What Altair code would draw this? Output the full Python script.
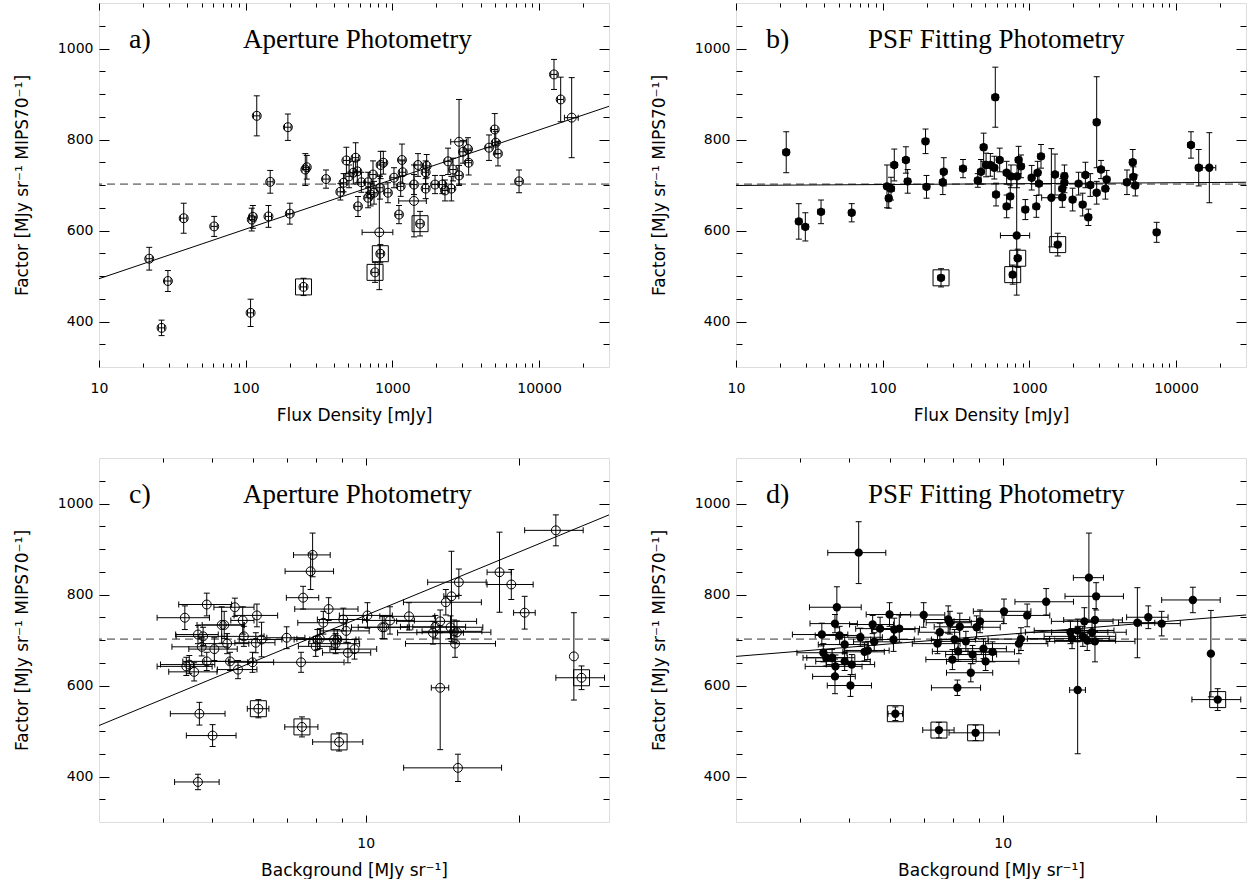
import altair as alt
import pandas as pd

# ---------------- data ----------------
# Panel a: aperture photometry factor vs flux density
a_flux = [22, 26.7, 29.5, 37.8, 61, 108, 110, 112, 119, 143, 147, 194, 200, 248, 255,
          261, 353, 442, 465, 486, 507, 542, 562, 577, 583, 615, 683, 683, 711, 738,
          750, 762, 815, 824, 828, 832, 868, 933, 1026, 1110, 1140, 1163, 1176, 1405, 1405,
          1496, 1545, 1687, 1687, 1714, 1954, 2191, 2285, 2397, 2525, 2593, 2850, 2850, 3034, 3281,
          3313, 4560, 4990, 5070, 5250, 7310, 12650, 14050, 16700]
a_fac = [538, 386, 489, 627, 609, 419, 624, 630, 852, 631, 707, 827, 637, 476, 734,
         739, 713, 685, 705, 754, 719, 727, 760, 730, 653, 706, 706, 672, 679, 723,
         683, 508, 596, 694, 549, 744, 749, 683, 716, 635, 697, 755, 728, 701, 665,
         744, 615, 728, 692, 742, 701, 701, 688, 752, 692, 734, 795, 721, 773, 779,
         749, 782, 822, 793, 769, 708, 943, 888, 848]
a_err = [25, 17, 23, 33, 22, 30, 25, 25, 44, 24, 25, 29, 23, 19, 35,
         26, 20, 18, 20, 29, 25, 25, 33, 25, 22, 22, 22, 22, 25, 30,
         25, 22, 126, 25, 20, 30, 25, 22, 22, 20, 22, 35, 25, 22, 79,
         25, 27, 25, 22, 25, 20, 20, 23, 29, 27, 25, 93, 22, 25, 25,
         27, 28, 35, 25, 27, 25, 33, 49, 88]
a_ferr = [1.1, 1.3, 1.5, 1.9, 3, 5, 5, 6, 6, 7, 7, 10, 10, 12, 13,
          13, 18, 22, 23, 24, 25, 27, 28, 29, 29, 31, 34, 34, 36, 37,
          38, 38, 193, 41, 41, 42, 43, 47, 51, 55, 57, 58, 59, 70, 300,
          75, 77, 84, 84, 86, 98, 110, 114, 120, 126, 130, 350, 142, 152, 164,
          166, 228, 250, 254, 262, 365, 630, 700, 1800]
a_boxed = [13, 31, 34, 46]
a_fit_x = [10, 30000]
a_fit_y = [494, 873]

# Panel b: PSF fitting factor vs flux density
b_flux = [22, 26.8, 29.7, 38, 61.5, 107, 110, 114, 120, 144, 148, 196, 199, 250, 257,
          261, 353, 445, 468, 488, 507, 542, 577, 586, 593, 628, 700, 700, 741, 750,
          770, 820, 824, 833, 845, 877, 939, 1037, 1116, 1139, 1163, 1201, 1413, 1496, 1561,
          1678, 1678, 1734, 1734, 1973, 2167, 2310, 2411, 2525, 2604, 2878, 2878, 3082, 3300, 3367,
          4630, 5070, 5120, 5280, 7380, 12650, 14280, 16870]
b_fac = [772, 620, 608, 641, 639, 697, 671, 692, 744, 755, 708, 796, 696, 496, 706,
         729, 736, 710, 729, 783, 744, 744, 738, 893, 679, 755, 727, 653, 675, 719,
         503, 589, 719, 539, 755, 741, 646, 716, 653, 727, 703, 763, 672, 723, 569,
         673, 692, 719, 705, 668, 703, 657, 722, 629, 700, 838, 683, 734, 692, 712,
         706, 750, 718, 699, 596, 788, 738, 738]
b_err = [45, 39, 31, 26, 20, 47, 22, 25, 35, 29, 26, 27, 25, 20, 27,
         31, 20, 15, 27, 31, 26, 25, 25, 66, 25, 26, 25, 25, 25, 25,
         21, 131, 25, 20, 30, 25, 22, 27, 24, 25, 25, 26, 108, 45, 25,
         22, 22, 25, 22, 25, 25, 25, 28, 18, 25, 100, 25, 20, 23, 20,
         27, 28, 22, 23, 22, 29, 40, 77]
b_ferr = [1.1, 1.3, 1.5, 1.9, 3, 5, 5, 6, 6, 7, 7, 10, 10, 12, 13,
          13, 18, 22, 23, 24, 25, 27, 29, 29, 30, 31, 35, 35, 37, 37,
          38, 185, 41, 42, 42, 44, 47, 52, 56, 57, 58, 60, 200, 75, 78,
          84, 84, 87, 87, 99, 108, 115, 120, 126, 130, 144, 144, 154, 165, 168,
          230, 254, 256, 264, 370, 630, 710, 1800]
b_boxed = [13, 30, 33, 44]
b_fit_x = [10, 30000]
b_fit_y = [699, 706]

# Panel c: aperture photometry factor vs background
c_bg = [4.42, 4.45, 4.51, 4.61, 4.69, 4.72, 4.69, 4.77, 4.80, 4.88, 4.88, 5.01, 5.05, 5.22, 5.28,
        5.35, 5.42, 5.54, 5.62, 5.74, 5.77, 6.0, 6.09, 6.12, 6.16, 6.25, 7.0, 7.47, 7.50, 7.54,
        7.80, 7.87, 7.98, 8.04, 8.13, 8.26, 8.46, 8.67, 8.73, 8.80, 8.87, 9.04, 9.16, 9.23, 9.51,
        10.08, 10.78, 10.87, 11.16, 12.16, 13.55, 13.7, 14.0, 14.0, 14.36, 14.67, 14.73, 14.9, 14.97, 15.1,
        15.17, 15.23, 18.3, 19.3, 20.5, 23.6, 25.6, 26.5]
c_fac = [749, 642, 646, 630, 712, 538, 388, 685, 708, 778, 653, 490, 680, 733, 733,
         692, 653, 772, 635, 743, 708, 651, 694, 754, 549, 701, 705, 651, 509, 793,
         851, 887, 686, 701, 703, 738, 768, 701, 692, 701, 476, 745, 720, 672, 680,
         754, 728, 728, 743, 752, 716, 729, 741, 595, 783, 728, 796, 719, 692, 717,
         419, 827, 849, 822, 760, 941, 664, 617]
c_err = [26, 20, 20, 20, 20, 25, 17, 20, 20, 25, 20, 24, 25, 40, 30,
         22, 20, 20, 20, 30, 22, 22, 22, 25, 20, 38, 24, 22, 22, 25,
         40, 48, 22, 22, 22, 25, 25, 22, 22, 22, 20, 25, 25, 22, 22,
         28, 25, 25, 30, 30, 25, 25, 25, 136, 28, 25, 99, 25, 30, 25,
         30, 29, 88, 33, 36, 34, 96, 26]
c_bgerr = [0.52, 0.55, 0.55, 0.5, 0.45, 0.58, 0.47, 0.6, 0.55, 0.58, 0.5, 0.56, 0.55, 0.55, 0.5,
           0.55, 0.6, 0.5, 0.5, 0.3, 0.55, 0.6, 0.55, 0.6, 0.3, 0.6, 0.6, 1.6, 0.56, 0.55,
           0.85, 0.65, 0.6, 0.8, 0.8, 0.9, 1.2, 0.9, 1.0, 0.9, 1.0, 1.0, 1.0, 1.0, 1.0,
           1.2, 1.4, 1.2, 1.3, 1.5, 2.0, 2.0, 2.5, 0.55, 2.5, 2.3, 0.5, 2.0, 3.0, 2.5,
           3.3, 2.0, 1.0, 2.0, 1.0, 3.1, 0, 2.9]
c_boxed = [24, 28, 40, 67]
c_fit_x = [3, 30]
c_fit_y = [512, 975]

# Panel d: PSF fitting factor vs background
d_bg = [4.42, 4.45, 4.51, 4.63, 4.69, 4.73, 4.69, 4.70, 4.79, 4.90, 4.90, 5.03, 5.06, 5.22, 5.26,
        5.36, 5.44, 5.56, 5.60, 5.75, 6.0, 6.11, 6.13, 6.16, 6.27, 7.0, 7.45, 7.50, 7.53, 7.82,
        7.88, 7.97, 8.05, 8.15, 8.18, 8.24, 8.47, 8.66, 8.73, 8.85, 8.89, 9.03, 9.17, 9.26, 9.55,
        10.06, 10.76, 10.86, 11.17, 12.17, 13.58, 13.68, 14.03, 14.03, 14.36, 14.46, 14.65, 14.76, 14.97, 15.17,
        15.17, 15.25, 18.37, 19.3, 20.5, 23.6, 25.6, 26.4]
d_fac = [712, 672, 661, 661, 736, 772, 620, 642, 710, 690, 653, 600, 646, 892, 706,
         674, 677, 734, 696, 725, 756, 701, 723, 538, 725, 755, 692, 502, 717, 745,
         738, 657, 701, 595, 675, 729, 697, 628, 668, 496, 728, 741, 681, 653, 674,
         763, 692, 702, 754, 784, 717, 703, 721, 590, 708, 741, 699, 837, 717, 744,
         697, 796, 738, 750, 736, 788, 670, 569]
d_err = [25, 20, 18, 18, 20, 45, 38, 25, 20, 20, 20, 24, 22, 68, 20,
         20, 20, 20, 20, 25, 26, 26, 25, 15, 30, 27, 22, 17, 20, 30,
         25, 22, 22, 17, 22, 30, 22, 20, 20, 17, 25, 25, 22, 20, 22,
         27, 22, 25, 25, 29, 25, 22, 25, 140, 22, 30, 22, 98, 25, 25,
         45, 30, 77, 25, 27, 28, 95, 24]
d_bgerr = [0.55, 0.5, 0.45, 0.5, 0.5, 0.55, 0.45, 0.6, 0.5, 0.55, 0.6, 0.5, 0.55, 0.68, 0.55,
           0.5, 0.55, 0.55, 0.5, 0.6, 0.6, 0.6, 0.6, 0.2, 0.6, 0.7, 0.8, 0.53, 0.7, 0.8,
           0.8, 0.9, 0.8, 0.9, 0.9, 0.9, 0.9, 0.9, 1.0, 1.0, 1.0, 1.0, 1.0, 1.5, 1.0,
           1.3, 1.5, 1.5, 1.2, 1.6, 2.5, 2.5, 2.5, 0.5, 2.3, 2.0, 2.0, 1.0, 2.5, 2.0,
           3.0, 2.0, 1.5, 1.8, 1.8, 3.1, 0, 2.9]
d_boxed = [23, 27, 39, 67]
d_fit_x = [3, 30]
d_fit_y = [664, 755]

ref_level = 702

flux_domain = [10, 30000]
flux_major = [10, 100, 1000, 10000]
flux_minor = [20, 30, 40, 50, 60, 70, 80, 90, 200, 300, 400, 500, 600, 700, 800, 900,
              2000, 3000, 4000, 5000, 6000, 7000, 8000, 9000, 20000]
flux_labels = [10, 100, 1000, 10000]

bg_domain = [3, 30]
bg_major = [10, 20]
bg_minor = [4, 5, 6, 7, 8, 9]
bg_labels = [10]

y_domain = [300, 1100]
y_major = [400, 600, 800, 1000]
y_minor = [350, 450, 500, 550, 650, 700, 750, 850, 900, 950, 1050]

Y_TITLE = "Factor [MJy sr\u207b\u00b9 MIPS70\u207b\u00b9]"
FLUX_TITLE = "Flux Density [mJy]"
BG_TITLE = "Background [MJy sr\u207b\u00b9]"

# ---------------- layout ----------------
W, H = 510, 364
SANS = "DejaVu Sans"
SERIF = "Liberation Serif"


def make_df(x, y, yerr, xerr, boxed):
    df = pd.DataFrame({"x": x, "y": y, "yerr": yerr, "xerr": xerr})
    df["ylo"] = df["y"] - df["yerr"]
    df["yhi"] = df["y"] + df["yerr"]
    df["xlo"] = df["x"] - df["xerr"]
    df["xhi"] = df["x"] + df["xerr"]
    df["box"] = [i in boxed for i in range(len(df))]
    return df


def tick_axis(orient, values, size, offset):
    return alt.Axis(orient=orient, values=values, tickSize=size, offset=offset,
                    labels=False, domain=False, grid=False, title=None,
                    tickColor="black", tickWidth=1)


def panel(df, fit_x, fit_y, xdom, xmaj, xmin, xlab, xtitle, filled, tag, title, title_x):
    xs = alt.Scale(type="log", domain=xdom)
    ys = alt.Scale(domain=y_domain)

    def X(field, axis=None):
        return alt.X(field, type="quantitative", scale=xs, axis=axis)

    def Y(field, axis=None):
        return alt.Y(field, type="quantitative", scale=ys, axis=axis)

    x_label_axis = alt.Axis(orient="bottom", values=xlab, format="d", ticks=False, tickSize=0,
                            domain=False, grid=False, labelFont=SANS, labelFontSize=14,
                            labelColor="black", labelPadding=14, labelFlush=False,
                            labelOverlap=False, title=xtitle, titleFont=SANS,
                            titleFontSize=17, titleFontWeight="normal", titleColor="black",
                            titlePadding=12)
    y_label_axis = alt.Axis(orient="left", values=y_major, format="d", ticks=False, tickSize=0,
                            domain=False, grid=False, labelFont=SANS, labelFontSize=14,
                            labelColor="black", labelPadding=6, labelFlush=False,
                            title=Y_TITLE, titleFont=SANS, titleFontSize=17,
                            titleFontWeight="normal", titleColor="black", titlePadding=26)

    carriers = [
        (x_label_axis, y_label_axis),
        (tick_axis("top", xmaj, 7, -H), tick_axis("right", y_major, 10, -W)),
        (tick_axis("top", xmin, 4, -H), tick_axis("right", y_minor, 6, -W)),
        (tick_axis("bottom", xmaj, 7, -H), tick_axis("left", y_major, 10, -W)),
        (tick_axis("bottom", xmin, 4, -H), tick_axis("left", y_minor, 6, -W)),
    ]
    layers = []
    for xa, ya in carriers:
        layers.append(alt.Chart(df).mark_point(opacity=0).encode(x=X("x", xa), y=Y("y", ya)))

    yerr = alt.Chart(df).mark_rule(color="black", strokeWidth=1, clip=True).encode(
        x=X("x"), y=Y("ylo"), y2="yhi")
    ycaps = alt.Chart(df).transform_fold(["ylo", "yhi"], as_=["k", "v"]).mark_tick(
        orient="horizontal", size=6, thickness=1, color="black", opacity=1, clip=True
    ).encode(x=X("x"), y=Y("v:Q"))
    xerr = alt.Chart(df).transform_filter("datum.xerr > 0").mark_rule(
        color="black", strokeWidth=1, clip=True).encode(x=X("xlo"), x2="xhi", y=Y("y"))
    xcaps = alt.Chart(df).transform_filter("datum.xerr > 0").transform_fold(
        ["xlo", "xhi"], as_=["k", "v"]).mark_tick(
        orient="vertical", size=6, thickness=1, color="black", opacity=1, clip=True
    ).encode(x=X("v:Q"), y=Y("y"))
    pts = alt.Chart(df).mark_point(shape="circle", filled=filled, size=70 if filled else 80,
                                   color="black", opacity=1, strokeWidth=1).encode(
        x=X("x"), y=Y("y"))
    boxes = alt.Chart(df).transform_filter("datum.box").mark_point(
        shape="square", filled=False, size=256, color="black", opacity=1, strokeWidth=1
    ).encode(x=X("x"), y=Y("y"))
    fit = alt.Chart(pd.DataFrame({"x": fit_x, "y": fit_y})).mark_line(
        color="black", strokeWidth=1, clip=True).encode(x=X("x"), y=Y("y"))
    dashed = alt.Chart(pd.DataFrame({"y": [ref_level]})).mark_rule(
        color="#333333", strokeWidth=1, strokeDash=[8, 5]).encode(y=Y("y"))
    tag_t = alt.Chart(pd.DataFrame({"t": [tag]})).mark_text(
        align="left", baseline="alphabetic", font=SERIF, fontSize=28, color="black"
    ).encode(x=alt.value(30), y=alt.value(45), text="t:N")
    title_t = alt.Chart(pd.DataFrame({"t": [title]})).mark_text(
        align="left", baseline="alphabetic", font=SERIF, fontSize=27, color="black"
    ).encode(x=alt.value(title_x), y=alt.value(45), text="t:N")

    layers += [dashed, fit, yerr, ycaps, xerr, xcaps, pts, boxes, tag_t, title_t]
    return alt.layer(*layers).properties(width=W, height=H).resolve_axis(
        x="independent", y="independent")


df_a = make_df(a_flux, a_fac, a_err, a_ferr, a_boxed)
df_b = make_df(b_flux, b_fac, b_err, b_ferr, b_boxed)
df_c = make_df(c_bg, c_fac, c_err, c_bgerr, c_boxed)
df_d = make_df(d_bg, d_fac, d_err, d_bgerr, d_boxed)

pa = panel(df_a, a_fit_x, a_fit_y, flux_domain, flux_major, flux_minor, flux_labels,
           FLUX_TITLE, False, "a)", "Aperture Photometry", 144)
pb = panel(df_b, b_fit_x, b_fit_y, flux_domain, flux_major, flux_minor, flux_labels,
           FLUX_TITLE, True, "b)", "PSF Fitting Photometry", 132)
pc = panel(df_c, c_fit_x, c_fit_y, bg_domain, bg_major, bg_minor, bg_labels,
           BG_TITLE, False, "c)", "Aperture Photometry", 144)
pd_ = panel(df_d, d_fit_x, d_fit_y, bg_domain, bg_major, bg_minor, bg_labels,
            BG_TITLE, True, "d)", "PSF Fitting Photometry", 132)

chart = alt.concat(pa, pb, pc, pd_, columns=2, spacing={"row": 91, "column": 127},
                   bounds="flush").properties(
    padding={"left": 12, "top": 2, "right": 0, "bottom": 0}
).configure_view(stroke="black", strokeWidth=1).configure(background="white")

chart.save("out.html", embed_options={"renderer": "svg", "actions": False})
